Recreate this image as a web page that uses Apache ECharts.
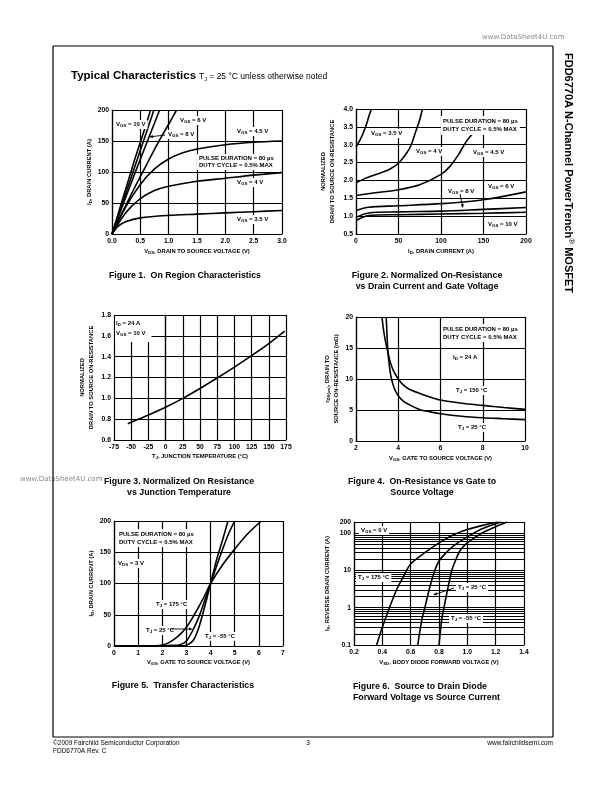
<!DOCTYPE html>
<html><head><meta charset="utf-8">
<script src="https://cdn.jsdelivr.net/npm/echarts@6/dist/echarts.min.js"></script>
<style>html,body{margin:0;padding:0;background:#fff}#c{width:612px;height:792px}</style>
</head><body><div id="c"></div>
<script>
// ---------- DATA ----------
// Figure 1: On region characteristics (VDS [V], ID [A])
const fig1XTicks = ['0.0','0.5','1.0','1.5','2.0','2.5','3.0'];
const fig1YTicks = ['0','50','100','150','200'];
const fig1_vgs10 = [[0,0],[0.1,30],[0.2,60],[0.3,90],[0.4,120],[0.5,148],[0.6,176],[0.68,200]];
const fig1_vgs8  = [[0,0],[0.1,27],[0.2,54],[0.3,81],[0.4,108],[0.5,135],[0.6,162],[0.74,200]];
const fig1_vgs6  = [[0,0],[0.2,49],[0.4,97],[0.6,144],[0.84,200]];
const fig1_vgs5  = [[0,0],[0.2,38],[0.4,75],[0.6,110],[0.8,145],[1.0,177],[1.14,200]];
const fig1_vgs45 = [[0,0],[0.25,45],[0.5,80],[0.75,105],[1.0,121],[1.25,131],[1.5,137],[2.0,144],[2.5,148],[3.0,150]];
const fig1_vgs4  = [[0,0],[0.25,35],[0.5,57],[0.75,70],[1.0,77],[1.5,85],[2.0,90],[2.5,95],[3.0,99]];
const fig1_vgs35 = [[0,0],[0.1,12],[0.25,20],[0.5,26],[1.0,30],[1.5,32],[2.0,34],[2.5,36],[3.0,38]];

// Figure 2: Normalized on-resistance vs drain current (ID [A], normalized)
const fig2XTicks = ['0','50','100','150','200'];
const fig2YTicks = ['0.5','1.0','1.5','2.0','2.5','3.0','3.5','4.0'];
const fig2_vgs35 = [[0,2.93],[4,3.1],[8,3.3],[12,3.55],[15,3.78],[18,4.0]];
const fig2_vgs4  = [[0,1.93],[10,2.05],[20,2.14],[30,2.22],[40,2.32],[50,2.48],[60,2.78],[65,3.0],[70,3.35],[75,3.7],[78,4.0]];
const fig2_vgs45 = [[0,1.58],[25,1.66],[50,1.74],[75,1.88],[100,2.17],[110,2.38],[120,2.7],[130,3.1],[137,3.3]];
const fig2_vgs6  = [[0,1.16],[15,1.25],[50,1.29],[100,1.35],[150,1.46],[200,1.68]];
const fig2_vgs8  = [[0,0.97],[15,1.09],[50,1.12],[100,1.14],[150,1.19],[200,1.24]];
const fig2_vgs10 = [[0,0.88],[15,1.02],[50,1.04],[100,1.06],[150,1.08],[200,1.11]];

// Figure 3: Normalized on-resistance vs junction temperature
const fig3XTicks = ['-75','-50','-25','0','25','50','75','100','125','150','175'];
const fig3YTicks = ['0.6','0.8','1.0','1.2','1.4','1.6','1.8'];
const fig3_rds = [[-55,0.755],[-50,0.77],[-25,0.84],[0,0.915],[25,1.0],[50,1.095],[75,1.195],[100,1.3],[125,1.41],[150,1.525],[173,1.645]];

// Figure 4: On-resistance vs gate to source voltage (VGS [V], mOhm)
const fig4XTicks = ['2','4','6','8','10'];
const fig4YTicks = ['0','5','10','15','20'];
const fig4_tj150 = [[3.23,20],[3.3,18],[3.4,16],[3.5,14.5],[3.6,13],[3.75,11.5],[4,10],[4.25,9],[4.5,8.4],[5,7.7],[5.5,7.1],[6,6.6],[7,6.1],[8,5.75],[9,5.4],[10,5.1]];
const fig4_tj25  = [[3.43,20],[3.47,17],[3.5,15],[3.55,13],[3.65,10.5],[3.8,8.6],[4,7.3],[4.25,6.4],[4.5,5.9],[5,5.1],[5.5,4.7],[6,4.4],[7,4.0],[8,3.75],[9,3.6],[10,3.45]];

// Figure 5: Transfer characteristics (VGS [V], ID [A])
const fig5XTicks = ['0','1','2','3','4','5','6','7'];
const fig5YTicks = ['0','50','100','150','200'];
const fig5_tj175 = [[0,0],[1.8,0.5],[2.0,1.5],[2.25,5],[2.5,11],[2.75,19],[3.0,30],[3.25,45],[3.5,62],[3.75,80],[4.0,100],[4.5,130],[5.0,155],[5.5,178],[6.1,200]];
const fig5_tj25  = [[0,0],[2.6,1],[2.8,3],[3.0,8],[3.25,24],[3.5,45],[3.75,72],[4.0,100],[4.25,128],[4.5,155],[4.75,180],[5.0,200]];
const fig5_tjm55 = [[0,0],[2.9,0.5],[3.1,3],[3.3,10],[3.5,28],[3.75,62],[4.0,100],[4.25,138],[4.5,170],[4.72,200]];

// Figure 6: Source to drain diode forward voltage (VSD [V], IS [A], log)
const fig6XTicks = ['0.2','0.4','0.6','0.8','1.0','1.2','1.4'];
const fig6_tj175 = [[0.36,0.1],[0.4,0.3],[0.45,1],[0.5,3],[0.55,7],[0.6,15],[0.7,30],[0.8,55],[0.9,90],[1.0,125],[1.1,160],[1.22,200]];
const fig6_tj25  = [[0.65,0.1],[0.68,0.5],[0.7,1],[0.73,3],[0.77,10],[0.8,18],[0.85,30],[0.9,45],[1.0,80],[1.1,130],[1.2,180],[1.24,200]];
const fig6_tjm55 = [[0.8,0.1],[0.82,0.5],[0.835,1],[0.86,3],[0.89,10],[0.92,20],[0.95,35],[1.0,55],[1.1,100],[1.2,150],[1.28,200]];
const fig6MinorGrid = [0.2,0.3,0.4,0.5,0.6,0.7,0.8,0.9,2,3,4,5,6,7,8,9,20,30,40,50,60,70,80,90];

// ---------- STYLE ----------
const FONT = '"Liberation Sans", Arial, sans-serif';
const LBL = {fontFamily: FONT, fontWeight: 'bold', fontSize: 6.8, color: '#000'};
const SUBR = {fontFamily: FONT, fontWeight: 'bold', fontSize: 4.3, color: '#000', padding: [3,0,0,0]};
const NAME = {fontFamily: FONT, fontWeight: 'bold', fontSize: 5.8, color: '#000', lineHeight: 9, rich: {s: SUBR}};
const LINE = {color: '#000', width: 1.2};

function axis(g, min, max, interval, ticks, name, gap, isY, extra) {
  return Object.assign({
    type: 'value', gridIndex: g, min, max, interval,
    name, nameLocation: 'middle', nameGap: gap, nameTextStyle: NAME,
    nameRotate: isY ? 90 : 0,
    axisLine: {show: true, lineStyle: LINE},
    axisTick: {show: false},
    splitLine: {show: true, lineStyle: LINE},
    axisLabel: Object.assign({}, LBL, {margin: isY ? 3 : 4,
      formatter: (v, i) => ticks[i] !== undefined ? ticks[i] : String(v)})
  }, extra || {});
}
function S(i, data, extra) {
  return Object.assign({type: 'line', xAxisIndex: i, yAxisIndex: i, data, symbol: 'none', showSymbol: false,
    smooth: 0.3, silent: true, lineStyle: {color: '#000', width: 1.6}, z: 3}, extra || {});
}
const RICH = {
  s: {fontFamily: FONT, fontWeight: 'bold', fontSize: 4.4, fill: '#000', padding: [3,0,0,0]}
};
function txt(x, y, text, o) {
  return {type: 'text', x, y, z: 100, silent: true,
    style: Object.assign({text, fontFamily: FONT, fontWeight: 'bold', fontSize: 6, fill: '#000',
      align: 'left', verticalAlign: 'top', rich: RICH}, o || {})};
}
function boxed(x, y, text, o) {
  return txt(x, y, text, Object.assign({backgroundColor: '#fff', padding: [1, 2, 1, 2]}, o || {}));
}
function arrow(x1, y1, x2, y2) {
  const a = Math.atan2(y2 - y1, x2 - x1), L = 4, W = 1.6;
  const bx = x2 - L * Math.cos(a), by = y2 - L * Math.sin(a);
  return [
    {type: 'line', z: 101, silent: true, shape: {x1, y1, x2: bx, y2: by}, style: {stroke: '#000', lineWidth: 0.9}},
    {type: 'polygon', z: 101, silent: true, shape: {points: [[x2, y2],
      [bx + W * Math.sin(a), by - W * Math.cos(a)], [bx - W * Math.sin(a), by + W * Math.cos(a)]]}, style: {fill: '#000'}}
  ];
}
function capt(x, y, text, align) {
  return {type: 'text', x, y, z: 100, silent: true, style: {text, fontFamily: FONT, fontWeight: 'bold', fontSize: 8.8,
    fill: '#000', align: align || 'center', verticalAlign: 'middle', lineHeight: 11.5}};
}
function hl(x1, y1, x2, y2) {
  return {type: 'line', z: 100, silent: true, shape: {x1, y1, x2, y2}, style: {stroke: '#000', lineWidth: 1.2}};
}
const PULSE = 'PULSE DURATION = 80 µs\nDUTY CYCLE = 0.5% MAX';

const option = {
  animation: false,
  backgroundColor: '#fff',
  grid: [
    {left: 112, top: 110, width: 170, height: 124},
    {left: 356, top: 109, width: 170, height: 125},
    {left: 114, top: 315, width: 172, height: 125},
    {left: 356, top: 317, width: 169, height: 124},
    {left: 114, top: 521, width: 169, height: 125},
    {left: 354, top: 522, width: 170, height: 123}
  ],
  xAxis: [
    axis(0, 0, 3, 0.5, fig1XTicks, 'V{s|DS}, DRAIN TO SOURCE VOLTAGE (V)', 13, false),
    axis(1, 0, 200, 50, fig2XTicks, 'I{s|D}, DRAIN CURRENT (A)', 13, false),
    axis(2, -75, 175, 25, fig3XTicks, 'T{s|J}, JUNCTION TEMPERATURE (°C)', 12, false),
    axis(3, 2, 10, 2, fig4XTicks, 'V{s|GS}, GATE TO SOURCE VOLTAGE (V)', 13, false),
    axis(4, 0, 7, 1, fig5XTicks, 'V{s|GS}, GATE TO SOURCE VOLTAGE (V)', 12, false),
    axis(5, 0.2, 1.4, 0.2, fig6XTicks, 'V{s|SD}, BODY DIODE FORWARD VOLTAGE (V)', 13, false)
  ],
  yAxis: [
    axis(0, 0, 200, 50, fig1YTicks, 'I{s|D}, DRAIN CURRENT (A)', 11, true),
    axis(1, 0.5, 4.0, 0.5, fig2YTicks, 'NORMALIZED\nDRAIN TO SOURCE ON-RESISTANCE', 19, true),
    axis(2, 0.6, 1.8, 0.2, fig3YTicks, 'NORMALIZED\nDRAIN TO SOURCE ON-RESISTANCE', 18, true),
    axis(3, 0, 20, 5, fig4YTicks, 'r{s|DS(on)}, DRAIN TO\nSOURCE ON-RESISTANCE (mΩ)', 15, true),
    axis(4, 0, 200, 50, fig5YTicks, 'I{s|D}, DRAIN CURRENT (A)', 18, true),
    {type: 'log', gridIndex: 5, min: 0.1, max: 200, logBase: 10,
     name: 'I{s|S}, REVERSE DRAIN CURRENT (A)', nameLocation: 'middle', nameGap: 22, nameRotate: 90, nameTextStyle: NAME,
     axisLine: {show: true, lineStyle: LINE}, axisTick: {show: false},
     splitLine: {show: true, lineStyle: LINE},
     axisLabel: Object.assign({}, LBL, {margin: 3, formatter: v => String(+v.toPrecision(3))})}
  ],
  series: [
    S(0, fig1_vgs10), S(0, fig1_vgs8), S(0, fig1_vgs6), S(0, fig1_vgs5), S(0, fig1_vgs45), S(0, fig1_vgs4), S(0, fig1_vgs35),
    S(1, fig2_vgs35), S(1, fig2_vgs4), S(1, fig2_vgs45), S(1, fig2_vgs6), S(1, fig2_vgs8), S(1, fig2_vgs10),
    S(2, fig3_rds),
    S(3, fig4_tj150), S(3, fig4_tj25),
    S(4, fig5_tj175), S(4, fig5_tj25), S(4, fig5_tjm55),
    S(5, fig6_tj175, {markLine: {silent: true, symbol: 'none', label: {show: false}, animation: false,
      lineStyle: {color: '#000', width: 1, type: 'solid'}, emphasis: {disabled: true},
      data: fig6MinorGrid.map(v => ({yAxis: v}))}}),
    S(5, fig6_tj25), S(5, fig6_tjm55)
  ],
  graphic: [
    // page frame
    hl(53, 46, 553, 46), hl(553, 46, 553, 737), hl(53, 737, 553, 737), hl(53, 46, 53, 737),
    // watermarks
    {type: 'text', x: 482, y: 37, z: 50, style: {text: 'www.DataSheet4U.com', fontFamily: '"DejaVu Sans", sans-serif', fontSize: 7, fill: '#888', verticalAlign: 'middle'}},
    {type: 'text', x: 20, y: 479, z: 50, style: {text: 'www.DataSheet4U.com', fontFamily: '"DejaVu Sans", sans-serif', fontSize: 7, fill: '#888', verticalAlign: 'middle'}},
    // header
    {type: 'text', x: 71, y: 76, z: 100, style: {text: 'Typical Characteristics', fontFamily: FONT, fontWeight: 'bold', fontSize: 11.5, fill: '#000', verticalAlign: 'middle'}},
    {type: 'text', x: 199, y: 77, z: 100, style: {text: 'T{s|J} = 25 °C unless otherwise noted', fontFamily: FONT, fontSize: 8.5, fill: '#000', verticalAlign: 'middle',
      rich: {s: {fontFamily: FONT, fontSize: 5.5, fill: '#000', padding: [4,0,0,0]}}}},
    // side title
    {type: 'text', x: 568, y: 53, rotation: -Math.PI / 2, z: 100, style: {text: 'FDD6770A N-Channel PowerTrench{r|®} MOSFET', fontFamily: FONT, fontWeight: 'bold', fontSize: 11, fill: '#000', align: 'left', verticalAlign: 'middle',
      rich: {r: {fontFamily: FONT, fontSize: 8, fill: '#000', padding: [0,0,6,0]}}}},
    // Figure 1 labels
    boxed(114, 120, 'V{s|GS} = 10 V'),
    boxed(178, 116, 'V{s|GS} = 6 V'),
    boxed(166, 130, 'V{s|GS} = 8 V'),
    ...arrow(165, 135, 149, 137),
    boxed(235, 127, 'V{s|GS} = 4.5 V'),
    boxed(197, 154, PULSE, {lineHeight: 7}),
    boxed(235, 178, 'V{s|GS} = 4 V'),
    boxed(235, 215, 'V{s|GS} = 3.5 V'),
    // Figure 2 labels
    boxed(441, 116, PULSE, {lineHeight: 8.5}),
    boxed(369, 129, 'V{s|GS} = 3.5 V'),
    boxed(414, 147, 'V{s|GS} = 4 V'),
    boxed(471, 148, 'V{s|GS} = 4.5 V'),
    boxed(446, 187, 'V{s|GS} = 8 V'),
    ...arrow(460, 194, 463, 208),
    boxed(486, 182, 'V{s|GS} = 6 V'),
    boxed(486, 220, 'V{s|GS} = 10 V'),
    // Figure 3 labels
    boxed(115, 316, 'I{s|D} = 24 A\nV{s|GS} = 10 V', {lineHeight: 10, padding: [2, 6, 4, 1]}),
    // Figure 4 labels
    boxed(441, 324, PULSE, {lineHeight: 8}),
    boxed(451, 353, 'I{s|D} = 24 A'),
    boxed(454, 386, 'T{s|J} = 150 °C'),
    boxed(456, 423, 'T{s|J} = 25 °C'),
    // Figure 5 labels
    boxed(117, 529, PULSE, {lineHeight: 8}),
    boxed(116, 559, 'V{s|DS} = 3 V'),
    boxed(154, 600, 'T{s|J} = 175 °C'),
    boxed(144, 626, 'T{s|J} = 25 °C'),
    ...arrow(170, 629, 193, 629),
    boxed(203, 632, 'T{s|J} = -55 °C'),
    // Figure 6 labels
    boxed(359, 526, 'V{s|GS} = 0 V'),
    boxed(356, 573, 'T{s|J} = 175 °C'),
    boxed(456, 583, 'T{s|J} = 25 °C'),
    ...arrow(454, 588, 433, 595),
    boxed(449, 614, 'T{s|J} = -55 °C'),
    // captions
    capt(185, 275.5, 'Figure 1.  On Region Characteristics'),
    capt(427, 281, 'Figure 2. Normalized On-Resistance\nvs Drain Current and Gate Voltage'),
    capt(179, 487, 'Figure 3. Normalized On Resistance\nvs Junction Temperature'),
    capt(422, 487, 'Figure 4.  On-Resistance vs Gate to\nSource Voltage'),
    capt(183, 686, 'Figure 5.  Transfer Characteristics'),
    capt(353, 692, 'Figure 6.  Source to Drain Diode\nForward Voltage vs Source Current', 'left'),
    // footer
    {type: 'text', x: 53, y: 743, z: 100, style: {text: '©2009 Fairchild Semiconductor Corporation', fontFamily: FONT, fontSize: 6.5, fill: '#000', verticalAlign: 'middle'}},
    {type: 'text', x: 53, y: 751, z: 100, style: {text: 'FDD6770A Rev. C', fontFamily: FONT, fontSize: 6.5, fill: '#000', verticalAlign: 'middle'}},
    {type: 'text', x: 308, y: 743, z: 100, style: {text: '3', fontFamily: FONT, fontSize: 6.5, fill: '#000', align: 'center', verticalAlign: 'middle'}},
    {type: 'text', x: 553, y: 743, z: 100, style: {text: 'www.fairchildsemi.com', fontFamily: FONT, fontSize: 6.5, fill: '#000', align: 'right', verticalAlign: 'middle'}}
  ]
};
const chart = echarts.init(document.getElementById('c'), null, {renderer: 'canvas'});
chart.setOption(option);
</script>
</body></html>
